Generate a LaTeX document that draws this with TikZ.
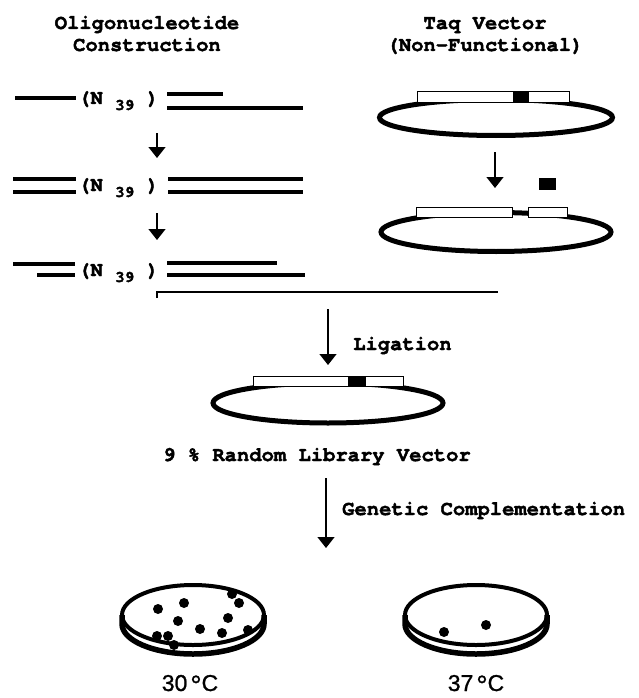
\documentclass[tikz,border=0pt]{standalone}
\usepackage{fontspec}
\setmainfont{texgyrecursor}[Extension=.otf, UprightFont=*-regular, BoldFont=*-bold, BoldFeatures={FakeBold=2}]
\newfontfamily\labelsans{Liberation Sans}[FakeBold=1]
\usetikzlibrary{arrows.meta}

\begin{document}
\begin{tikzpicture}[x=1pt,y=-1pt,
  strand/.style={line width=4.5pt},
  flow/.style={line width=1.3pt,-{Triangle[width=17pt,length=11pt]}},
  bracketline/.style={line width=1.3pt},
  txt/.style={font=\fontsize{20.5}{22}\selectfont\bfseries,inner sep=0pt},
  templabel/.style={font=\labelsans\fontsize{23}{24}\selectfont,inner sep=0pt,anchor=base},
  ring/.style={line width=5pt},
  gene/.style={draw,line width=1pt,fill=white},
  rimtop/.style={line width=4pt},
  rimbase/.style={line width=5.5pt},
  colony/.style={fill=black}]
\useasboundingbox (0,0) rectangle (639,698);

% ---------- headings ----------
\node[txt,anchor=base] (h1a) at (147,29) {Oligonucleotide};
\node[txt,anchor=base] (h1b) at (147,51) {Construction};
\node[txt,anchor=base] (h2a) at (485,29) {Taq Vector};
\node[txt,anchor=base] (h2b) at (485,51) {(Non-Functional)};

% ---------- oligonucleotide steps ----------
\newcommand{\randomseg}{(N {\fontsize{16}{16}\selectfont\raisebox{-6pt}{39}} )}
\newcommand{\degsign}{{\fontsize{28}{28}\selectfont\raisebox{-4pt}[\height][0pt]{°}}}
% step 1
\draw[strand] (15,98) -- (76,98);
\node[txt,anchor=base west] (n1) at (78,104) {\randomseg};
\draw[strand] (167,94) -- (223,94);
\draw[strand] (167,108) -- (303,108);
% step 2
\draw[strand] (13,179) -- (76,179);
\draw[strand] (13,192) -- (76,192);
\node[txt,anchor=base west] (n2) at (78,191) {\randomseg};
\draw[strand] (168,179) -- (303,179);
\draw[strand] (168,192) -- (303,192);
% step 3
\draw[strand] (13,264) -- (75,264);
\draw[strand] (37,275) -- (75,275);
\node[txt,anchor=base west] (n3) at (78,276) {\randomseg};
\draw[strand] (167,263) -- (277,263);
\draw[strand] (167,275) -- (305,275);

\coordinate (a1s) at (157,133); \coordinate (a1e) at (157,158);
\coordinate (a2s) at (157,213); \coordinate (a2e) at (157,240);
\draw[flow] (a1s) -- (a1e);
\draw[flow] (a2s) -- (a2e);

% ---------- Taq vector, intact ----------
\draw[ring] (496,117.5) ellipse [x radius=116.5pt, y radius=18pt];
\draw[gene] (417,91.5) rectangle (569,102.5);
\fill (513,91) rectangle (529,103);

\coordinate (a3s) at (495,152); \coordinate (a3e) at (495,188);
\draw[flow] (a3s) -- (a3e);

% ---------- Taq vector, opened ----------
\draw[ring] (496,232) ellipse [x radius=115pt, y radius=19.5pt];
\draw[gene] (416,207) rectangle (512,217);
\draw[gene] (528,207) rectangle (567,217);
\fill (539,178) rectangle (556,190);

% ---------- ligation ----------
\coordinate (bl) at (157,298);
\coordinate (bm) at (328,309);
\coordinate (br) at (498,292);
\draw[bracketline] (bl) |- (br);
\coordinate (a4e) at (328,365);
\draw[flow] (bm) -- (a4e);
\node[txt,anchor=base west] (lig) at (353,350) {Ligation};

\draw[ring] (328,403) ellipse [x radius=115pt, y radius=20pt];
\draw[gene] (253,376) rectangle (403,386);
\fill (348,375.5) rectangle (366,386.5);

\node[txt,anchor=base west] (lib) at (163,461) {9 \% Random Library Vector};

% ---------- complementation ----------
\coordinate (a5s) at (326,478); \coordinate (a5e) at (326,548);
\draw[flow] (a5s) -- (a5e);
\node[txt,anchor=base west] (gc) at (342,515) {Genetic Complementation};

% ---------- plates ----------
% plate at 30 C
\draw[rimtop] (193,615) ellipse [x radius=71pt, y radius=30pt];
\draw[rimbase] (122,615) -- (122,624) arc[start angle=180, end angle=360, x radius=71pt, y radius=30pt] -- (264,615);
\foreach \p in {(158,609),(184,603),(178,621),(200,629),(228,618),(222,633),
                (248,630),(232,594),(239,603),(157,636),(168,636),(174,645)}
  \fill[colony] \p circle (5pt);
\node[templabel] (t30) at (190,691) {30\hspace{3pt}\degsign C};

% plate at 37 C
\draw[rimtop] (476,615) ellipse [x radius=71pt, y radius=30pt];
\draw[rimbase] (405,615) -- (405,624) arc[start angle=180, end angle=360, x radius=71pt, y radius=30pt] -- (547,615);
\foreach \p in {(444,632),(486,625)}
  \fill[colony] \p circle (5pt);
\node[templabel] (t37) at (476,691) {37\hspace{3pt}\degsign C};
\end{tikzpicture}
\end{document}
